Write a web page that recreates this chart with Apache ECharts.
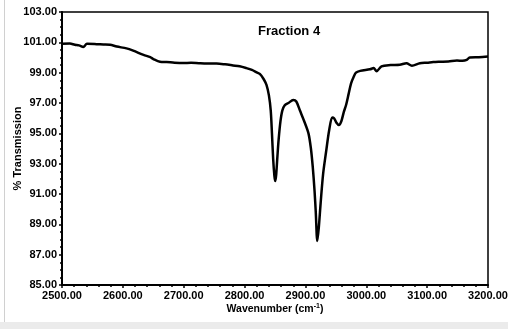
<!DOCTYPE html>
<html>
<head>
<meta charset="utf-8">
<script src="https://cdn.jsdelivr.net/npm/echarts@6/dist/echarts.min.js"></script>
<style>
  html, body { margin: 0; padding: 0; background: #fff; }
  #chart { width: 508px; height: 329px; }
</style>
</head>
<body>
<div id="chart"></div>
<script>
// 波数 (cm-1)
var wavenumber = [
	2500, 2513, 2521, 2528, 2535, 2541, 2557, 2568, 2579, 2590, 2606, 2617, 2634, 2645, 2650, 2661, 2672,
	2685, 2699, 2712, 2725, 2738, 2754, 2768, 2781, 2792, 2803, 2812, 2820, 2825, 2831, 2836, 2840,
	2843, 2845, 2847, 2849, 2850.5, 2852, 2854, 2856, 2859, 2862, 2866, 2872, 2880, 2885, 2891, 2898,
	2905, 2909, 2912, 2915, 2917, 2919.5, 2922, 2925, 2929, 2934, 2939, 2944, 2947, 2951, 2955, 2959,
	2963, 2967, 2971, 2975, 2979, 2983, 2990, 3006, 3012, 3017, 3025, 3040, 3055, 3066, 3075, 3088,
	3100, 3110, 3121, 3135, 3149, 3158, 3165, 3170, 3185, 3200
];
// 透过率 (%)
var transmission = [
	100.9, 100.92, 100.84, 100.8, 100.7, 100.9, 100.88, 100.86, 100.84, 100.72, 100.6, 100.45, 100.17, 100.02, 99.9, 99.72, 99.7,
	99.66, 99.64, 99.65, 99.62, 99.6, 99.6, 99.55, 99.48, 99.42, 99.3, 99.18, 99.02, 98.92, 98.6, 98.2, 97.5,
	96.5, 95.0, 93.3, 92.2, 91.85, 92.3, 93.5, 94.6, 95.8, 96.5, 96.85, 97.0, 97.2, 97.1, 96.5, 95.8,
	95.0, 94.0, 92.8, 91.2, 89.8, 87.9, 88.8, 90.4, 92.3, 93.8, 95.2, 96.05, 96.0, 95.7, 95.55, 95.8,
	96.4, 96.9, 97.6, 98.3, 98.7, 99.0, 99.12, 99.22, 99.3, 99.1, 99.42, 99.5, 99.52, 99.62, 99.46, 99.62,
	99.66, 99.7, 99.72, 99.74, 99.8, 99.78, 99.84, 100.0, 100.02, 100.06
];

var chart = echarts.init(document.getElementById('chart'));

var points = [];
for (var i = 0; i < wavenumber.length; i++) {
	points.push([wavenumber[i], transmission[i]]);
}

var labelFont = {
	fontFamily: 'Liberation Sans',
	fontWeight: 'bold',
	fontSize: 11,
	color: '#000'
};

var option = {
	backgroundColor: '#fff',
	animation: false,
	// 截图外框
	graphic: [
		{ type: 'rect', shape: { x: 0, y: 322, width: 508, height: 7 }, style: { fill: '#ebebeb' }, silent: true },
		{ type: 'line', shape: { x1: 4.5, y1: 0, x2: 4.5, y2: 322 }, style: { stroke: '#d0d0d0', lineWidth: 1 }, silent: true }
	],
	title: {
		text: 'Fraction 4',
		left: 253,
		top: 20,
		textStyle: {
			fontFamily: 'Liberation Sans',
			fontWeight: 'bold',
			fontSize: 13,
			color: '#000'
		}
	},
	grid: {
		left: 62,
		right: 20,
		top: 12,
		bottom: 44,
		outerBoundsMode: 'none',
		show: true,
		borderColor: '#000',
		borderWidth: 1.5,
		backgroundColor: '#fff'
	},
	xAxis: {
		type: 'value',
		min: 2500,
		max: 3200,
		interval: 100,
		name: 'Wavenumber (cm{sup|-1})',
		nameLocation: 'middle',
		nameGap: 18,
		nameMoveOverlap: false,
		nameTextStyle: {
			fontFamily: 'Liberation Sans',
			fontWeight: 'bold',
			fontSize: 10.5,
			color: '#000',
			rich: {
				sup: {
					fontFamily: 'Liberation Sans',
					fontWeight: 'bold',
					fontSize: 7,
					verticalAlign: 'top',
					padding: [0, 0, 5, 0]
				}
			}
		},
		axisLine: { lineStyle: { color: '#000', width: 2 } },
		axisTick: { inside: false, length: 3, lineStyle: { color: '#000', width: 1.5 } },
		minorTick: { show: true, splitNumber: 5, length: 2, lineStyle: { color: '#000', width: 1.5 } },
		splitLine: { show: false },
		axisLabel: Object.assign({ margin: 5, formatter: function (v) { return v.toFixed(2); } }, labelFont)
	},
	yAxis: {
		type: 'value',
		min: 85,
		max: 103,
		interval: 2,
		name: '% Transmission',
		nameLocation: 'middle',
		nameGap: 39,
		nameMoveOverlap: false,
		nameTextStyle: labelFont,
		axisLine: { lineStyle: { color: '#000', width: 2 } },
		axisTick: { inside: false, length: 3, lineStyle: { color: '#000', width: 1.5 } },
		minorTick: { show: true, splitNumber: 4, length: 2, lineStyle: { color: '#000', width: 1.5 } },
		splitLine: { show: false },
		axisLabel: Object.assign({ margin: 5, formatter: function (v) { return v.toFixed(2); } }, labelFont)
	},
	series: [{
		type: 'line',
		data: points,
		showSymbol: false,
		smooth: 0.3,
		lineStyle: { color: '#000', width: 2.5 }
	}]
};

chart.setOption(option);
</script>
</body>
</html>
